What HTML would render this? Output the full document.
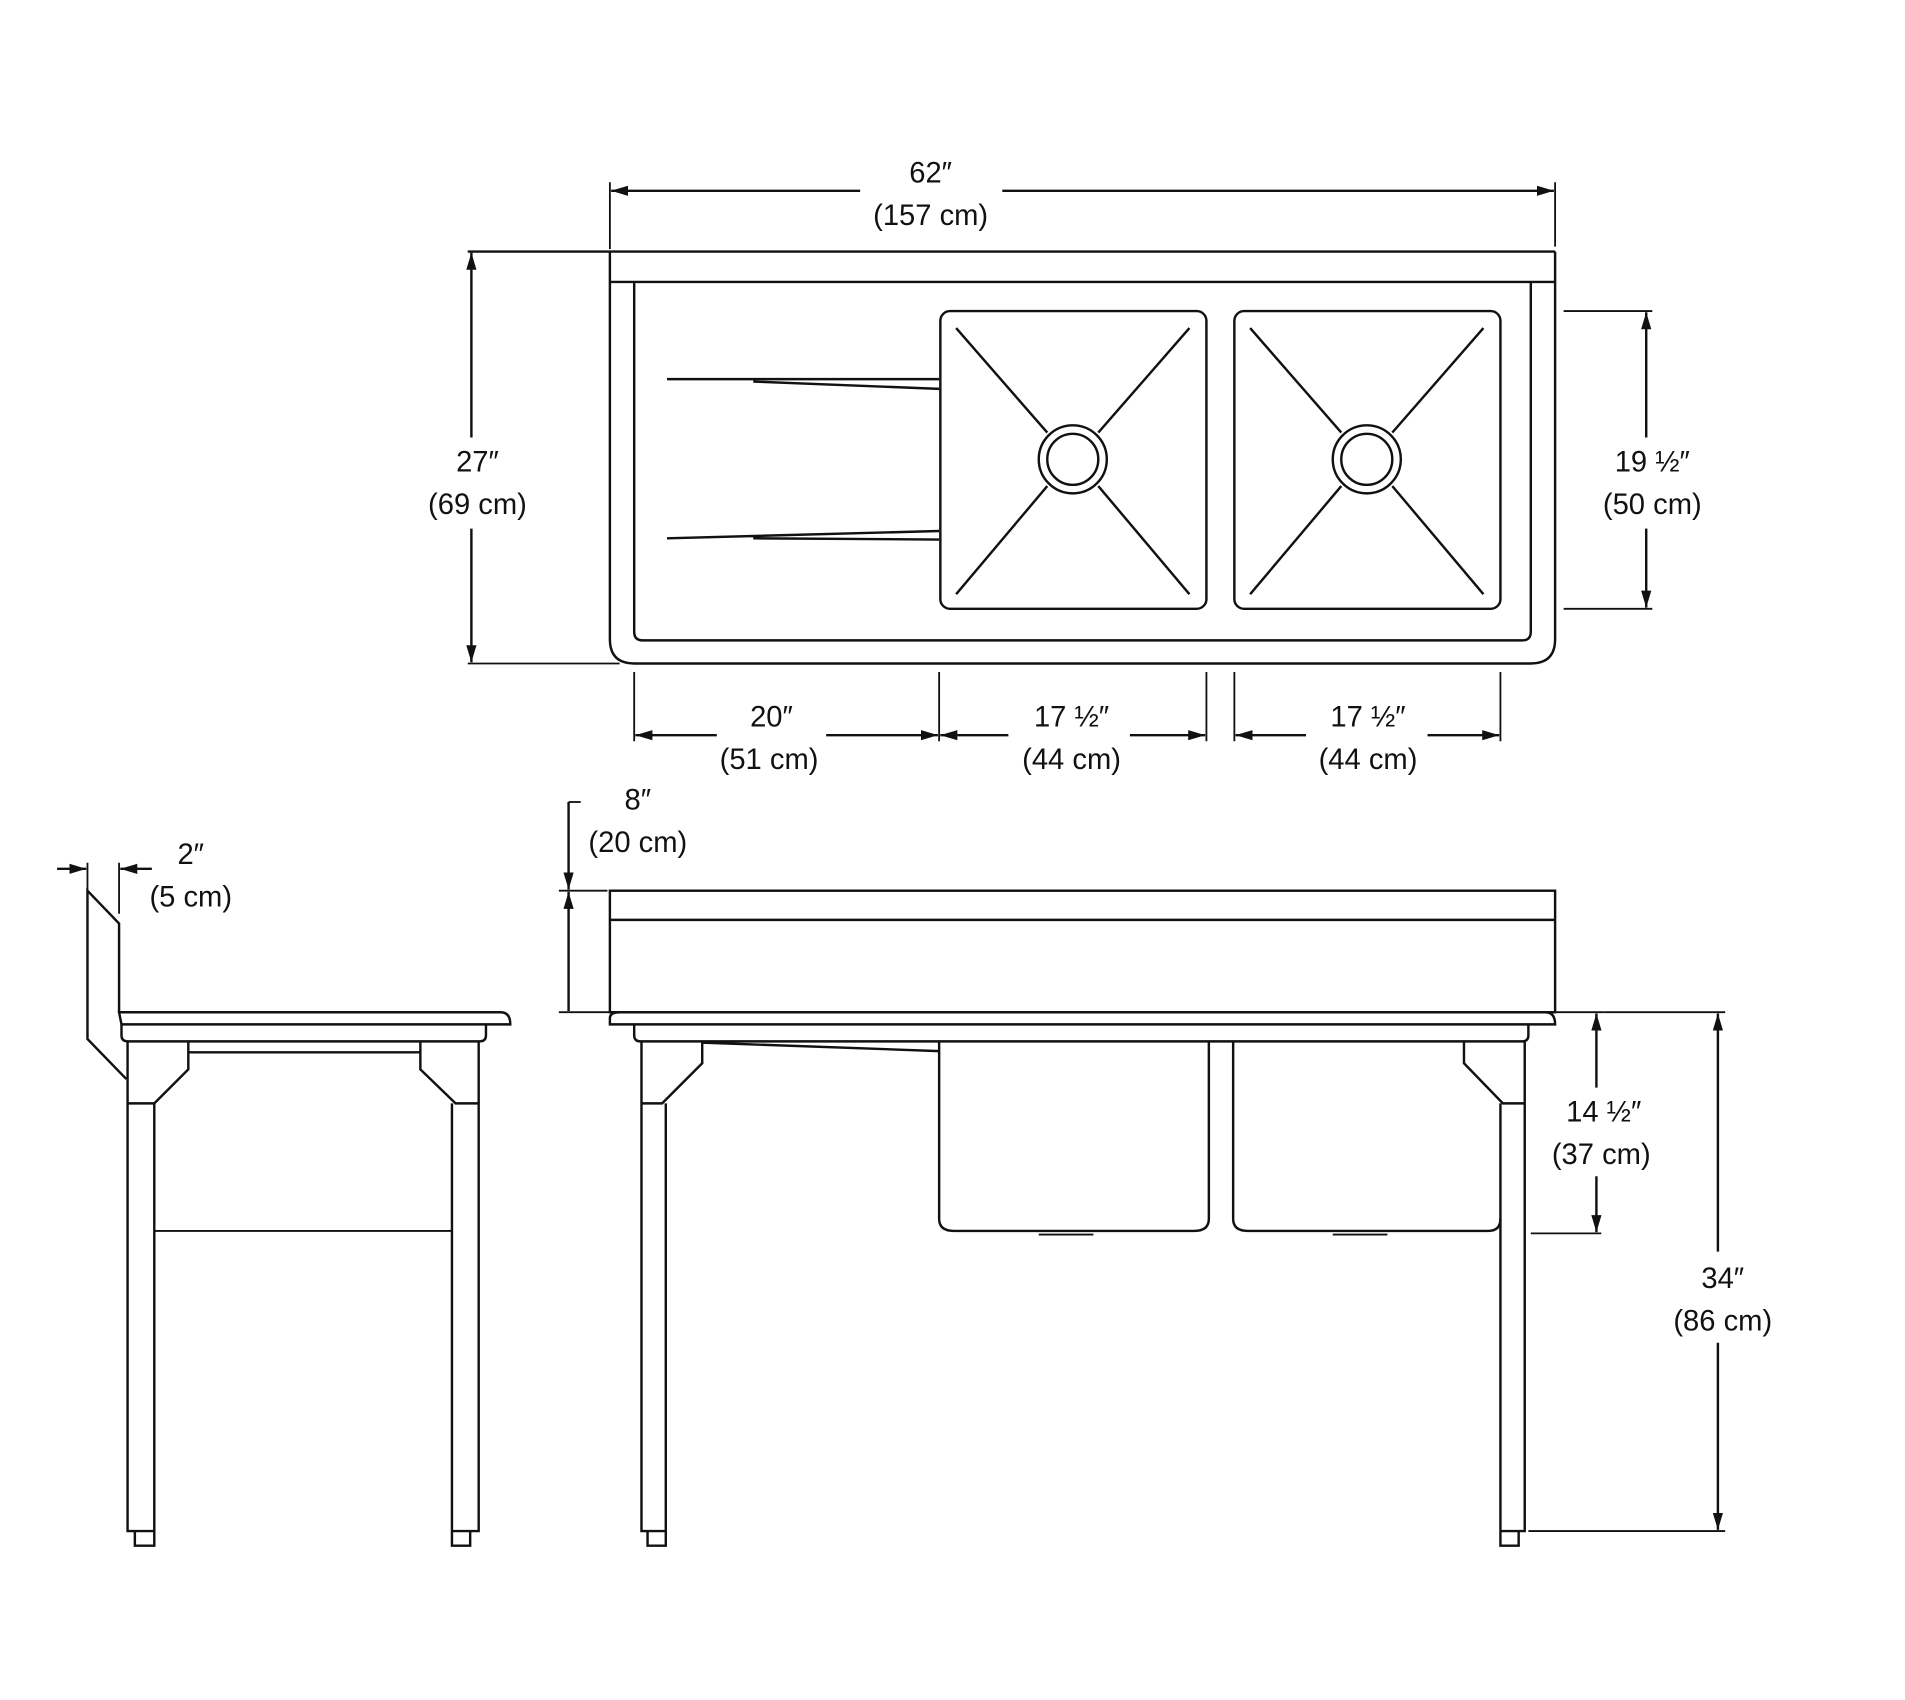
<!DOCTYPE html>
<html><head><meta charset="utf-8"><style>
html,body{margin:0;padding:0;background:#fff}
svg{display:block}
text{font-family:"Liberation Sans",sans-serif;font-size:24px;fill:#111;text-anchor:middle}
</style></head><body>
<svg width="1905" height="1700" viewBox="0 0 1568 1399" preserveAspectRatio="none" xmlns="http://www.w3.org/2000/svg">
<defs>
<marker id="a" viewBox="0 0 10 10" refX="10" refY="5" markerWidth="7" markerHeight="7" orient="auto-start-reverse"><path d="M0,2 L10,5 L0,8 z" fill="#111"/></marker>
</defs>
<g fill="none" stroke="#111" stroke-width="2">
<!-- TOP VIEW -->
<line x1="502" y1="150" x2="502" y2="205" stroke-width="1.5"/>
<line x1="1280" y1="150" x2="1280" y2="203" stroke-width="1.5"/>
<line x1="503" y1="157" x2="708" y2="157" marker-start="url(#a)"/>
<line x1="825" y1="157" x2="1279" y2="157" marker-end="url(#a)"/>
<line x1="385" y1="207" x2="1280" y2="207"/>
<path d="M502,207 V526 Q502,546 522,546 H1260 Q1280,546 1280,526 V207"/>
<line x1="502" y1="232" x2="1280" y2="232"/>
<path d="M522,232 V520 Q522,527 529,527 H1253 Q1260,527 1260,520 V232"/>
<path d="M549,312 H773 M620,314 L773,320"/>
<path d="M549,443 L773,437 M620,443 L773,444"/>
<rect x="774" y="256" width="219" height="245" rx="8"/>
<rect x="1016" y="256" width="219" height="245" rx="8"/>
<circle cx="883" cy="378" r="28"/><circle cx="883" cy="378" r="21"/>
<circle cx="1125" cy="378" r="28"/><circle cx="1125" cy="378" r="21"/>
<path d="M787,270 L862,356 M979,270 L904,356 M787,489 L862,400 M979,489 L904,400"/>
<path d="M1029,270 L1104,356 M1221,270 L1146,356 M1029,489 L1104,400 M1221,489 L1146,400"/>
<!-- 27 -->
<line x1="385" y1="546" x2="510" y2="546" stroke-width="1.5"/>
<line x1="388" y1="208" x2="388" y2="360" marker-start="url(#a)"/>
<line x1="388" y1="435" x2="388" y2="545" marker-end="url(#a)"/>
<!-- 19.5 -->
<line x1="1287" y1="256" x2="1360" y2="256" stroke-width="1.5"/>
<line x1="1287" y1="501" x2="1360" y2="501" stroke-width="1.5"/>
<line x1="1355" y1="257" x2="1355" y2="360" marker-start="url(#a)"/>
<line x1="1355" y1="435" x2="1355" y2="500" marker-end="url(#a)"/>
<!-- bottom dims -->
<path d="M522,553 V610 M773,553 V610 M993,553 V610 M1016,553 V610 M1235,553 V610" stroke-width="1.5"/>
<line x1="523" y1="605" x2="590" y2="605" marker-start="url(#a)"/>
<line x1="680" y1="605" x2="772" y2="605" marker-end="url(#a)"/>
<line x1="774" y1="605" x2="830" y2="605" marker-start="url(#a)"/>
<line x1="930" y1="605" x2="992" y2="605" marker-end="url(#a)"/>
<line x1="1017" y1="605" x2="1075" y2="605" marker-start="url(#a)"/>
<line x1="1175" y1="605" x2="1234" y2="605" marker-end="url(#a)"/>
<!-- FRONT VIEW -->
<rect x="502" y="733" width="778" height="100"/>
<line x1="502" y1="757" x2="1280" y2="757"/>
<path d="M468,660 H478" stroke-width="1.5"/>
<line x1="468" y1="660" x2="468" y2="732" marker-end="url(#a)"/>
<line x1="468" y1="734" x2="468" y2="832" marker-start="url(#a)"/>
<path d="M460,733 H500 M460,833 H502" stroke-width="1.5"/>
<path d="M502,843 V838 Q502,833 510,833 H1272 Q1280,833 1280,843 Z"/>
<path d="M522,843 V852 Q522,857 527,857 H1253 Q1258,857 1258,852 V843"/>
<path d="M528,857 V1260 H548 V908 M548,1260 V1272 H533 V1260"/>
<path d="M528,908 H545 L578,875 V857"/>
<path d="M1255,857 V1260 H1235 V908 M1235,1260 V1272 H1250 V1260"/>
<path d="M1255,908 H1237 L1205,875 V857"/>
<path d="M578,858 L773,865"/>
<path d="M773,857 V1003 Q773,1013 785,1013 H983 Q995,1013 995,1003 V857"/>
<path d="M1015,857 V1003 Q1015,1013 1027,1013 H1225 Q1235,1013 1235,1003"/>
<path d="M855,1016 H900 M1097,1016 H1142" stroke-width="1.5"/>
<!-- 14.5 -->
<path d="M1280,833 H1320 M1260,1015 H1318" stroke-width="1.5"/>
<line x1="1314" y1="834" x2="1314" y2="895" marker-start="url(#a)"/>
<line x1="1314" y1="968" x2="1314" y2="1014" marker-end="url(#a)"/>
<!-- 34 -->
<path d="M1320,833 H1420 M1258,1260 H1420" stroke-width="1.5"/>
<line x1="1414" y1="834" x2="1414" y2="1030" marker-start="url(#a)"/>
<line x1="1414" y1="1105" x2="1414" y2="1259" marker-end="url(#a)"/>
<!-- SIDE VIEW -->
<path d="M98,833 V760 L72,733 V855 L104,888"/>
<path d="M98,833 H412 Q420,833 420,843 H100 Z"/>
<path d="M100,843 V852 Q100,857 105,857 H395 Q400,857 400,852 V843"/>
<path d="M105,857 V1260 H127 V908 M127,1260 V1272 H111 V1260"/>
<path d="M105,908 H127 L155,880 V857"/>
<path d="M394,857 V1260 H372 V908 M372,1260 V1272 H387 V1260"/>
<path d="M394,908 H375 L346,880 V857"/>
<path d="M155,866 H346"/>
<path d="M127,1013 H372" stroke-width="1.5"/>
<path d="M72,710 V735 M98,710 V752" stroke-width="1.5"/>
<line x1="47" y1="715" x2="71" y2="715" marker-end="url(#a)"/>
<line x1="125" y1="715" x2="99" y2="715" marker-end="url(#a)"/>
</g>
<text x="766" y="150">62″</text>
<text x="766" y="185">(157 cm)</text>
<text x="393" y="388">27″</text>
<text x="393" y="423">(69 cm)</text>
<text x="1360" y="388">19 ½″</text>
<text x="1360" y="423">(50 cm)</text>
<text x="635" y="598">20″</text>
<text x="633" y="633">(51 cm)</text>
<text x="882" y="598">17 ½″</text>
<text x="882" y="633">(44 cm)</text>
<text x="1126" y="598">17 ½″</text>
<text x="1126" y="633">(44 cm)</text>
<text x="525" y="666">8″</text>
<text x="525" y="701">(20 cm)</text>
<text x="1320" y="923">14 ½″</text>
<text x="1318" y="958">(37 cm)</text>
<text x="1418" y="1060">34″</text>
<text x="1418" y="1095">(86 cm)</text>
<text x="157" y="711">2″</text>
<text x="157" y="746">(5 cm)</text>
</svg>
</body></html>
